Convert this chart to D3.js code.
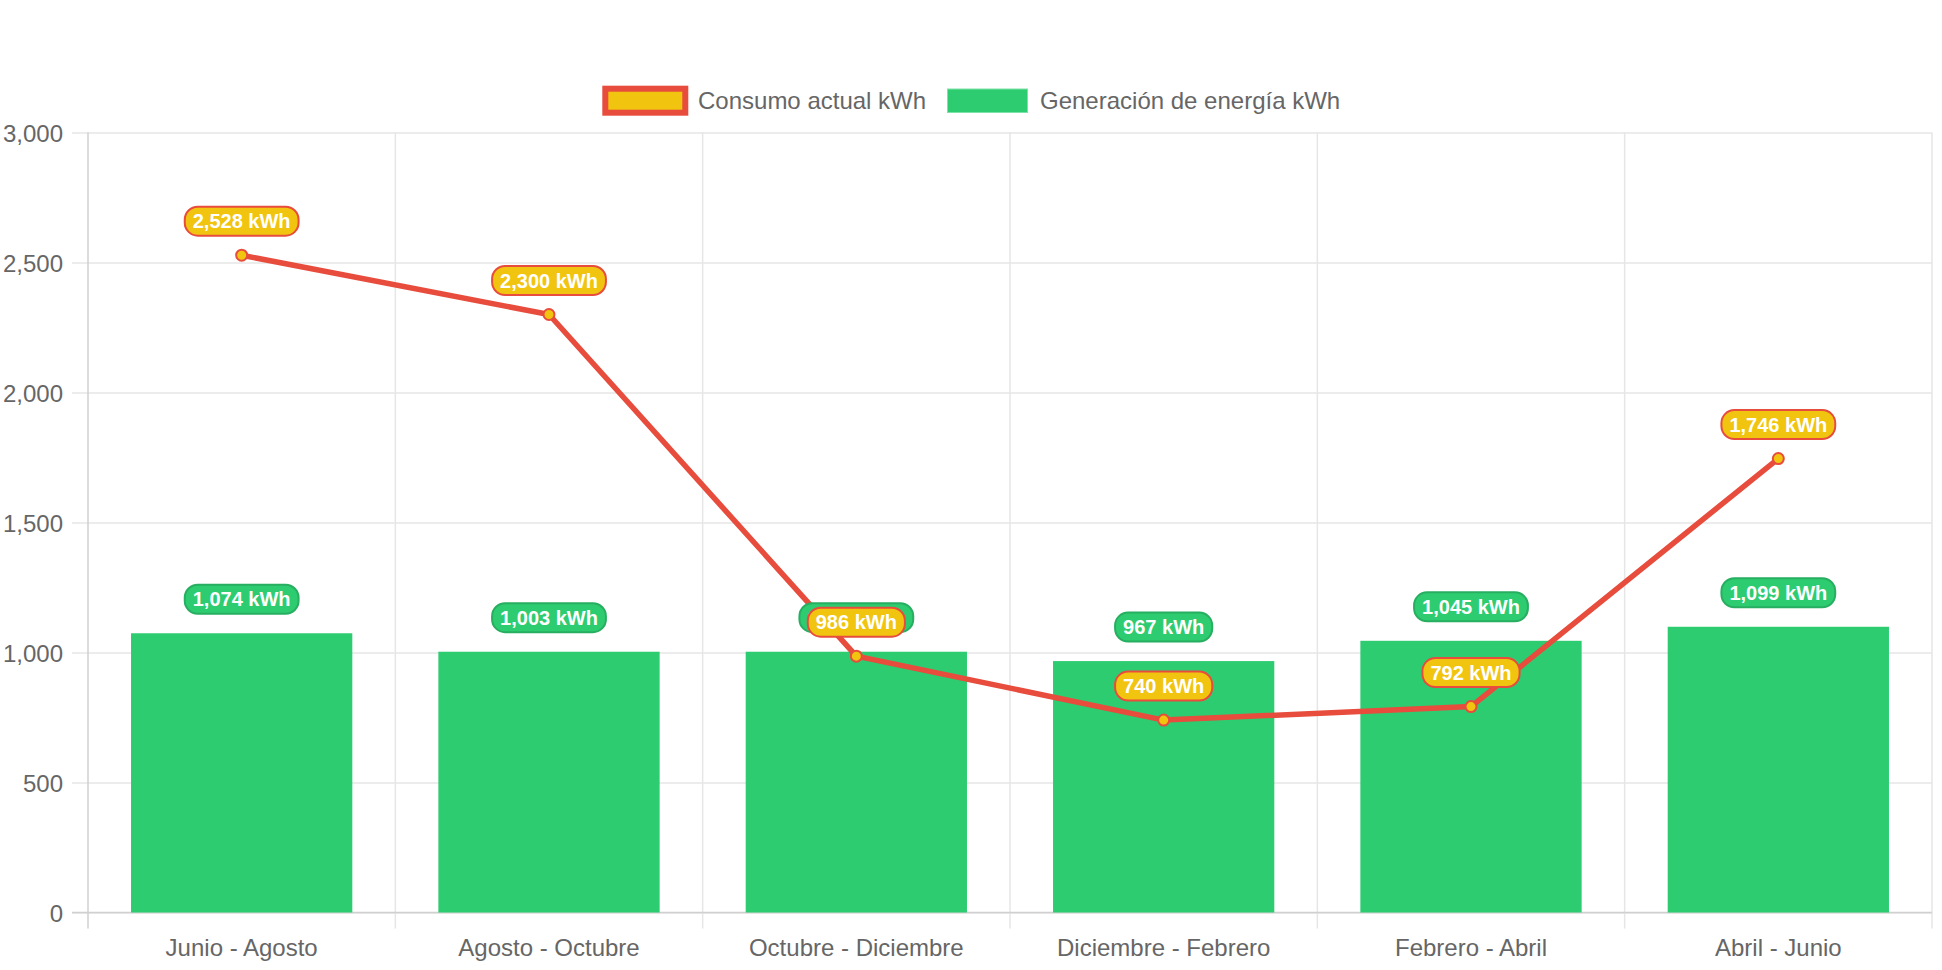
<!DOCTYPE html>
<html>
<head>
<meta charset="utf-8">
<script src="https://cdn.jsdelivr.net/npm/d3@7/dist/d3.min.js"></script>
<style>
  html, body { margin: 0; padding: 0; background: #fff; }
  svg { display: block; font-family: "Liberation Sans", Arial, Helvetica, sans-serif; }
</style>
</head>
<body>
<svg id="chart" width="1942" height="970"></svg>
<script>
const categories = ["Junio - Agosto", "Agosto - Octubre", "Octubre - Diciembre", "Diciembre - Febrero", "Febrero - Abril", "Abril - Junio"];
const consumo = [2528, 2300, 986, 740, 792, 1746];
const generacion = [1074, 1003, 1003, 967, 1045, 1099];
const yTicks = [0, 500, 1000, 1500, 2000, 2500, 3000];
const seriesNames = ["Consumo actual kWh", "Generación de energía kWh"];

const plotL = 88, plotR = 1932, plotT = 132.5, plotB = 912.5;
const RED = "#e74c3c", YEL = "#f1c40f", GREEN = "#2ecc71", DGREEN = "#27ae60";
const fmt = d3.format(",");

const svg = d3.select("#chart");
const x = d3.scaleBand().domain(categories).range([plotL, plotR]).padding(0);
const y = d3.scaleLinear().domain([0, 3000]).range([plotB, plotT]);

// horizontal grid + y axis
const yAxis = d3.axisLeft(y).tickValues(yTicks).tickFormat(fmt).tickSize(16).tickPadding(9);
const gy = svg.append("g").attr("transform", `translate(${plotL},0)`);
gy.call(yAxis);
gy.select(".domain").remove();
gy.selectAll(".tick line").attr("x1", -16).attr("x2", plotR - plotL).attr("stroke", "#e6e6e6").attr("stroke-width", 1.5);
gy.selectAll(".tick text").attr("x", -25).attr("dy", null).attr("dominant-baseline", "central")
  .attr("fill", "#666").attr("font-size", 24).style("font-family", "Liberation Sans, Arial, sans-serif");

// vertical grid lines at category boundaries
const bounds = categories.map(c => x(c)).concat([plotR]);
svg.append("g").selectAll("line").data(bounds).join("line")
  .attr("x1", d => d).attr("x2", d => d).attr("y1", plotT).attr("y2", plotB + 16)
  .attr("stroke", (d, i) => i === 0 ? "#d0d0d0" : "#e6e6e6").attr("stroke-width", 1.5);

// zero axis line
svg.append("line").attr("x1", plotL - 16).attr("x2", plotR).attr("y1", y(0)).attr("y2", y(0))
  .attr("stroke", "#d0d0d0").attr("stroke-width", 1.5);

// x labels
svg.append("g").selectAll("text").data(categories).join("text")
  .attr("x", d => x(d) + x.bandwidth() / 2).attr("y", 956)
  .attr("text-anchor", "middle").attr("fill", "#666").attr("font-size", 24).text(d => d);

// bars
const bw = x.bandwidth() * 0.72;
svg.append("g").selectAll("rect").data(generacion).join("rect")
  .attr("x", (d, i) => x(categories[i]) + (x.bandwidth() - bw) / 2)
  .attr("width", bw)
  .attr("y", d => y(d)).attr("height", d => y(0) - y(d))
  .attr("fill", GREEN);

// line
const cx = i => x(categories[i]) + x.bandwidth() / 2;
const line = d3.line().x((d, i) => cx(i)).y(d => y(d));
svg.append("path").datum(consumo).attr("d", line)
  .attr("fill", "none").attr("stroke", RED).attr("stroke-width", 5.5).attr("stroke-linejoin", "round");
svg.append("g").selectAll("circle").data(consumo).join("circle")
  .attr("cx", (d, i) => cx(i)).attr("cy", d => y(d)).attr("r", 5.5)
  .attr("fill", YEL).attr("stroke", RED).attr("stroke-width", 2);

// data labels
function labels(data, bg, border) {
  const g = svg.append("g");
  data.forEach((v, i) => {
    const cyv = y(v) - 34;
    const lg = g.append("g");
    const t = lg.append("text").attr("x", cx(i)).attr("y", cyv).attr("text-anchor", "middle")
      .attr("dominant-baseline", "central").attr("font-size", 20).attr("font-weight", "bold")
      .attr("fill", "#fff").text(fmt(v) + " kWh");
    const w = t.node().getComputedTextLength() + 16;
    lg.insert("rect", "text").attr("x", cx(i) - w / 2).attr("y", cyv - 14.5).attr("width", w).attr("height", 29)
      .attr("rx", 13).attr("fill", bg).attr("stroke", border).attr("stroke-width", 2);
  });
}
labels(generacion, GREEN, DGREEN);
labels(consumo, YEL, RED);

// legend
const lgd = svg.append("g");
lgd.append("rect").attr("x", 605.3).attr("y", 88.7).attr("width", 80).attr("height", 24)
  .attr("fill", YEL).attr("stroke", RED).attr("stroke-width", 6);
lgd.append("text").attr("x", 698).attr("y", 108.5).attr("fill", "#666").attr("font-size", 24).text(seriesNames[0]);
lgd.append("rect").attr("x", 947.5).attr("y", 89).attr("width", 80).attr("height", 23.5)
  .attr("fill", GREEN).attr("stroke", "#7ee2a8").attr("stroke-width", 1);
lgd.append("text").attr("x", 1040).attr("y", 108.5).attr("fill", "#666").attr("font-size", 24).text(seriesNames[1]);
</script>
</body>
</html>
